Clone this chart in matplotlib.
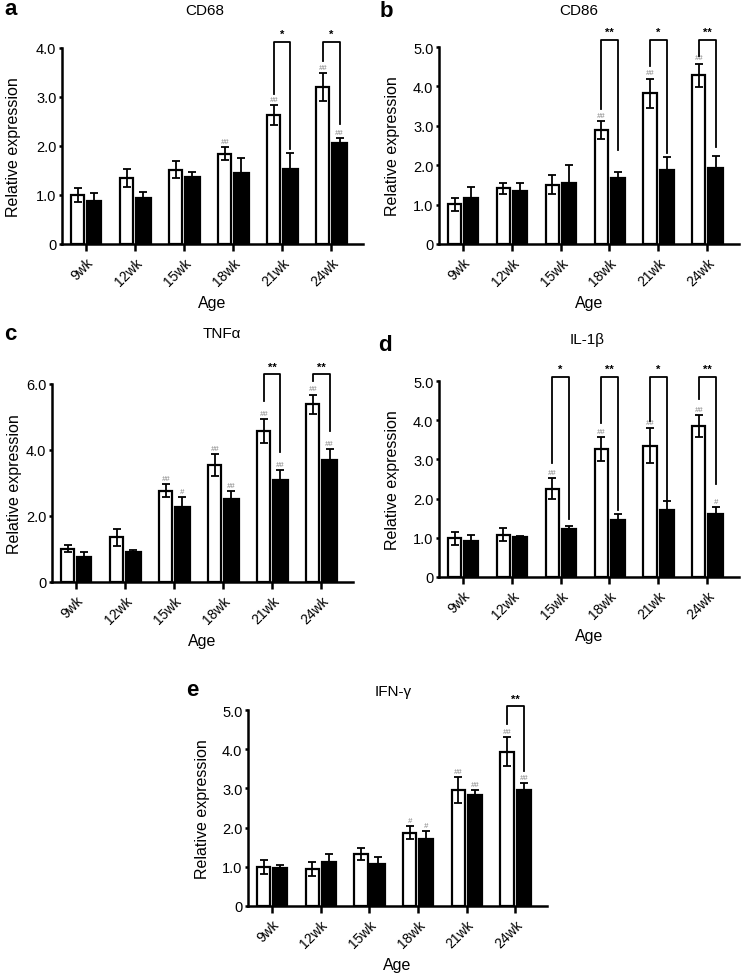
import numpy as np
import matplotlib.pyplot as plt

plt.rcParams['font.family'] = ['Liberation Sans', 'DejaVu Sans']

weeks = ['9wk', '12wk', '15wk', '18wk', '21wk', '24wk']

# CD68
cd68_open = [1.00, 1.35, 1.52, 1.84, 2.63, 3.20]
cd68_open_err = [0.14, 0.19, 0.17, 0.13, 0.21, 0.29]
cd68_black = [0.88, 0.93, 1.37, 1.45, 1.53, 2.06]
cd68_black_err = [0.16, 0.14, 0.09, 0.31, 0.33, 0.10]
cd68_hash_open = ['', '', '', '##', '##', '##']
cd68_hash_black = ['', '', '', '', '', '##']
cd68_sig = [(4, '*', 3.07, 1.93), (5, '*', 3.74, 2.45)]

# CD86
cd86_open = [1.01, 1.41, 1.51, 2.89, 3.83, 4.28]
cd86_open_err = [0.16, 0.14, 0.24, 0.22, 0.37, 0.30]
cd86_black = [1.17, 1.35, 1.54, 1.67, 1.88, 1.94]
cd86_black_err = [0.27, 0.20, 0.47, 0.17, 0.33, 0.29]
cd86_hash_open = ['', '', '', '##', '##', '##']
cd86_hash_black = ['', '', '', '', '', '']
cd86_sig = [(3, '**', 3.42, 2.38), (4, '*', 4.52, 2.32), (5, '**', 4.77, 2.45)]

# TNFa
tnf_open = [1.01, 1.35, 2.76, 3.54, 4.58, 5.39]
tnf_open_err = [0.10, 0.25, 0.20, 0.34, 0.36, 0.29]
tnf_black = [0.77, 0.92, 2.28, 2.51, 3.10, 3.70]
tnf_black_err = [0.15, 0.05, 0.30, 0.25, 0.30, 0.32]
tnf_hash_open = ['', '', '##', '##', '##', '##']
tnf_hash_black = ['', '', '#', '##', '##', '##']
tnf_sig = [(4, '**', 5.47, 3.93), (5, '**', 6.10, 4.58)]

# IL-1b
il1b_open = [0.99, 1.08, 2.25, 3.26, 3.35, 3.86]
il1b_open_err = [0.17, 0.17, 0.27, 0.30, 0.44, 0.28]
il1b_black = [0.93, 1.02, 1.23, 1.46, 1.71, 1.61]
il1b_black_err = [0.15, 0.02, 0.08, 0.15, 0.22, 0.17]
il1b_hash_open = ['', '', '##', '##', '##', '##']
il1b_hash_black = ['', '', '', '', '', '#']
il1b_sig = [(2, '*', 2.90, 1.48), (3, '**', 3.92, 1.71), (4, '*', 3.98, 1.97), (5, '**', 4.55, 2.37)]

# IFN-g
ifng_open = [1.00, 0.94, 1.32, 1.87, 2.96, 3.94]
ifng_open_err = [0.18, 0.18, 0.15, 0.16, 0.32, 0.36]
ifng_black = [0.98, 1.11, 1.06, 1.72, 2.83, 2.96]
ifng_black_err = [0.06, 0.21, 0.18, 0.20, 0.13, 0.17]
ifng_hash_open = ['', '', '', '#', '##', '##']
ifng_hash_black = ['', '', '', '#', '##', '##']
ifng_sig = [(5, '**', 4.64, 3.45)]

panels = [
    dict(tag='a', title='CD68', rect=[0.0836, 0.7495, 0.4057, 0.2004], ymax=4, step=1,
         o=cd68_open, oe=cd68_open_err, b=cd68_black, be=cd68_black_err,
         ho=cd68_hash_open, hb=cd68_hash_black, sig=cd68_sig, top=4.13, ylx=-0.136,
         tpos=(0.276, 0.989), lpos=(0.006, 0.990)),
    dict(tag='b', title='CD86', rect=[0.5916, 0.7495, 0.4043, 0.2014], ymax=5, step=1,
         o=cd86_open, oe=cd86_open_err, b=cd86_black, be=cd86_black_err,
         ho=cd86_hash_open, hb=cd86_hash_black, sig=cd86_sig, top=5.18, ylx=-0.13,
         tpos=(0.780, 0.989), lpos=(0.512, 0.988)),
    dict(tag='c', title='TNFα', rect=[0.0701, 0.4039, 0.4057, 0.2025], ymax=6, step=2,
         o=tnf_open, oe=tnf_open_err, b=tnf_black, be=tnf_black_err,
         ho=tnf_hash_open, hb=tnf_hash_black, sig=tnf_sig, top=6.29, ylx=-0.10,
         tpos=(0.299, 0.658), lpos=(0.006, 0.658)),
    dict(tag='d', title='IL-1β', rect=[0.5916, 0.4090, 0.4043, 0.2004], ymax=5, step=1,
         o=il1b_open, oe=il1b_open_err, b=il1b_black, be=il1b_black_err,
         ho=il1b_hash_open, hb=il1b_hash_black, sig=il1b_sig, top=5.11, ylx=-0.13,
         tpos=(0.791, 0.652), lpos=(0.510, 0.647)),
    dict(tag='e', title='IFN-γ', rect=[0.3342, 0.0726, 0.4030, 0.2004], ymax=5, step=1,
         o=ifng_open, oe=ifng_open_err, b=ifng_black, be=ifng_black_err,
         ho=ifng_hash_open, hb=ifng_hash_black, sig=ifng_sig, top=5.09, ylx=-0.127,
         tpos=(0.530, 0.292), lpos=(0.251, 0.294)),
]

fig = plt.figure(figsize=(7.42, 9.78), dpi=100)
x = np.arange(len(weeks))
d = 0.17
ekw = dict(ecolor='black', elinewidth=1.3, capsize=3, capthick=1.3)

for p in panels:
    ax = fig.add_axes(p['rect'])
    ax.bar(x - d, p['o'], 0.27, yerr=p['oe'], color='white', edgecolor='black',
           linewidth=1.6, error_kw=ekw, zorder=2)
    ax.bar(x + d, p['b'], 0.29, yerr=p['be'], color='black', edgecolor='black',
           linewidth=1.6, error_kw=ekw, zorder=2)

    # hash marks above error bars
    for xs, vals, errs, hs in [(x - d, p['o'], p['oe'], p['ho']), (x + d, p['b'], p['be'], p['hb'])]:
        for xi, v, e, h in zip(xs, vals, errs, hs):
            if h:
                ax.annotate(h, (xi, v + e), xytext=(0, 1.5), textcoords='offset points',
                            ha='center', va='bottom', fontsize=5.5, color='#808080',
                            style='italic', annotation_clip=False)

    # significance brackets
    for i, s, yl, yr in p['sig']:
        xl, xr = i - d, i + d
        ax.plot([xl, xl, xr, xr], [yl, p['top'], p['top'], yr], color='black',
                lw=1.3, clip_on=False, zorder=3)
        ax.annotate(s, ((xl + xr) / 2, p['top']), xytext=(0, 2), textcoords='offset points',
                    ha='center', va='bottom', fontsize=8, fontweight='bold',
                    annotation_clip=False)

    ax.set_xlim(-0.49, 5.65)
    ax.set_ylim(0, p['ymax'])
    ticks = np.arange(0, p['ymax'] + 0.01, p['step'])
    ax.set_yticks(ticks)
    ax.set_yticklabels(['0'] + ['%.1f' % t for t in ticks[1:]], fontsize=10.5)
    ax.set_xticks(x)
    ax.set_xticklabels(weeks, rotation=45, ha='right', rotation_mode='anchor', fontsize=10)
    ax.tick_params(axis='y', width=1.8, length=2, pad=2, direction='out')
    ax.tick_params(axis='x', width=1.8, length=5, pad=3, direction='out')
    for sp in ['top', 'right']:
        ax.spines[sp].set_visible(False)
    for sp in ['left', 'bottom']:
        ax.spines[sp].set_linewidth(1.8)
    ax.set_ylabel('Relative expression', fontsize=11.5)
    ax.yaxis.set_label_coords(p['ylx'], 0.5)
    ax.set_xlabel('Age', fontsize=11.5, labelpad=5)

    fig.text(p['tpos'][0], p['tpos'][1], p['title'], ha='center', va='center', fontsize=11)
    fig.text(p['lpos'][0], p['lpos'][1], p['tag'], ha='left', va='center', fontsize=16,
             fontweight='bold')

fig.savefig('out.png', dpi=100)
